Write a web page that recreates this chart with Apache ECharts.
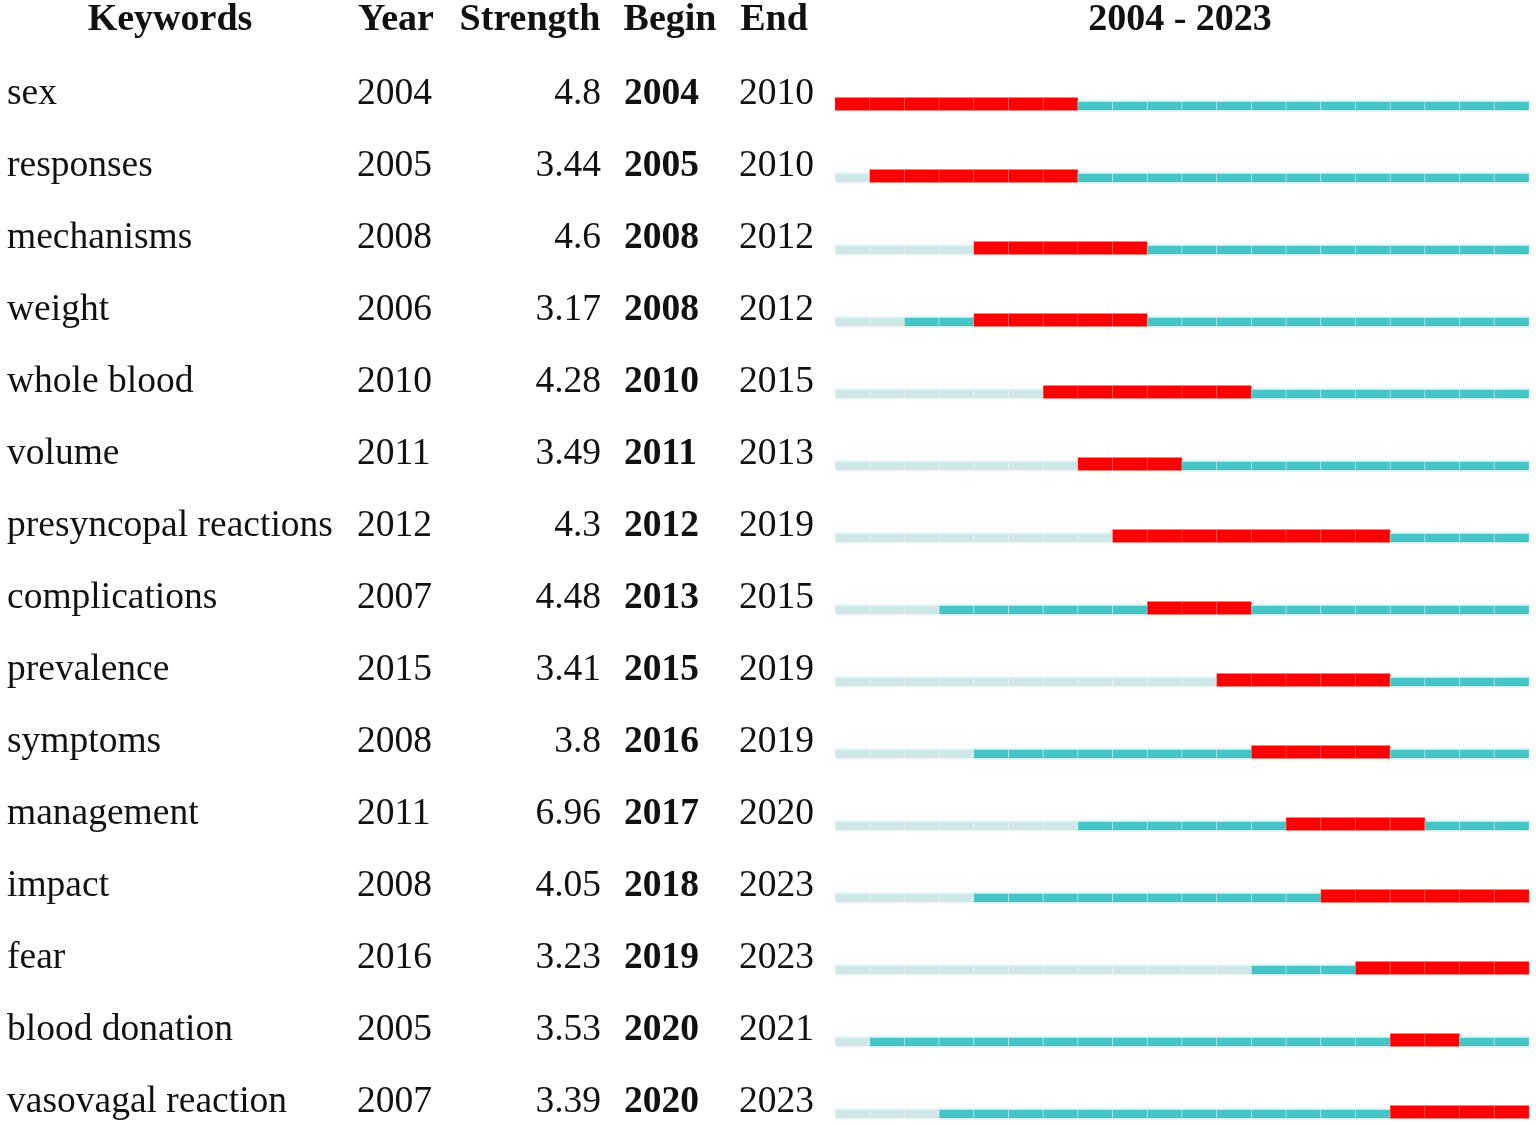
<!DOCTYPE html>
<html>
<head>
<meta charset="utf-8">
<script src="https://cdn.jsdelivr.net/npm/echarts@6/dist/echarts.min.js"></script>
<style>html,body{margin:0;padding:0;background:#fff;overflow:hidden}#c{width:1536px;height:1160px}</style>
</head>
<body>
<div id="c"></div>
<script>
const keywords = ['sex','responses','mechanisms','weight','whole blood','volume','presyncopal reactions','complications','prevalence','symptoms','management','impact','fear','blood donation','vasovagal reaction'];
const years    = [2004,2005,2008,2006,2010,2011,2012,2007,2015,2008,2011,2008,2016,2005,2007];
const strength = ['4.8','3.44','4.6','3.17','4.28','3.49','4.3','4.48','3.41','3.8','6.96','4.05','3.23','3.53','3.39'];
const begins   = [2004,2005,2008,2008,2010,2011,2012,2013,2015,2016,2017,2018,2019,2020,2020];
const ends     = [2010,2010,2012,2012,2015,2013,2019,2015,2019,2019,2020,2023,2023,2021,2023];
const firstYear = 2004, lastYear = 2023;
const headers = ['Keywords','Year','Strength','Begin','End','2004 - 2023'];

const FONT = 'Liberation Serif';
const FS = 37.5;
const RED = '#ff0000', TEAL = '#46c4c6', LIGHT = '#cfe9ea';

const cells = [];
keywords.forEach((k, r) => {
  for (let y = firstYear; y <= lastYear; y++) {
    let st;
    if (y < years[r]) st = 0;
    else if (y >= begins[r] && y <= ends[r]) st = 2;
    else st = 1;
    cells.push([y, r, st]);
  }
});

const rowIdx = keywords.map((_, i) => i);
function colAxis(fmt, align, margin, bold) {
  return {
    type: 'category', data: rowIdx, inverse: true, position: 'left',
    gridIndex: 0,
    axisLine: {show: false}, axisTick: {show: false}, splitLine: {show: false},
    axisLabel: {
      formatter: (v) => fmt(Number(v)), align: align, margin: margin,
      fontFamily: FONT, fontSize: FS, color: '#111', fontWeight: bold ? 'bold' : 'normal'
    }
  };
}

const chart = echarts.init(document.getElementById('c'));
const gridLeft = 835;
const headerX = [170, 396, 530, 670, 774, 1180];
chart.setOption({
  animation: false,
  title: headers.map((h, i) => ({
    text: h, left: headerX[i], top: 1, textAlign: 'center', padding: 0,
    textStyle: {fontFamily: FONT, fontSize: 38, fontWeight: 'bold', color: '#111'}
  })),
  grid: {left: gridLeft, right: 7, top: 58, height: 1080},
  xAxis: {type: 'value', min: firstYear, max: lastYear + 1, show: false},
  yAxis: [
    colAxis(i => keywords[i], 'left', gridLeft - 7, false),
    colAxis(i => String(years[i]), 'left', gridLeft - 357, false),
    colAxis(i => strength[i], 'right', gridLeft - 601, false),
    colAxis(i => String(begins[i]), 'left', gridLeft - 624, true),
    colAxis(i => String(ends[i]), 'left', gridLeft - 739, false)
  ],
  series: [{
    type: 'custom',
    yAxisIndex: 0,
    data: cells,
    renderItem: function (params, api) {
      const y0 = api.value(0), r = api.value(1), st = api.value(2);
      const p0 = api.coord([y0, r]);
      const p1 = api.coord([y0 + 1, r]);
      const bottom = p0[1] + 16.5;
      const w = p1[0] - p0[0];
      if (st === 2) {
        return {type: 'rect', shape: {x: p0[0], y: bottom - 13, width: w, height: 13},
          style: {fill: RED, stroke: 'rgba(255,120,120,0.35)', lineWidth: 1}};
      }
      const col = st === 1 ? TEAL : LIGHT;
      return {type: 'group', children: [
        {type: 'rect', shape: {x: p0[0], y: bottom - 9.5, width: w, height: 9.5},
          style: {fill: col, stroke: 'rgba(255,255,255,0.3)', lineWidth: 1}},
        {type: 'rect', shape: {x: p0[0], y: bottom - 10, width: w, height: 1.5},
          style: {fill: st === 1 ? '#bfe8e9' : '#e3f3f4'}}
      ]};
    }
  }]
});
</script>
</body>
</html>
